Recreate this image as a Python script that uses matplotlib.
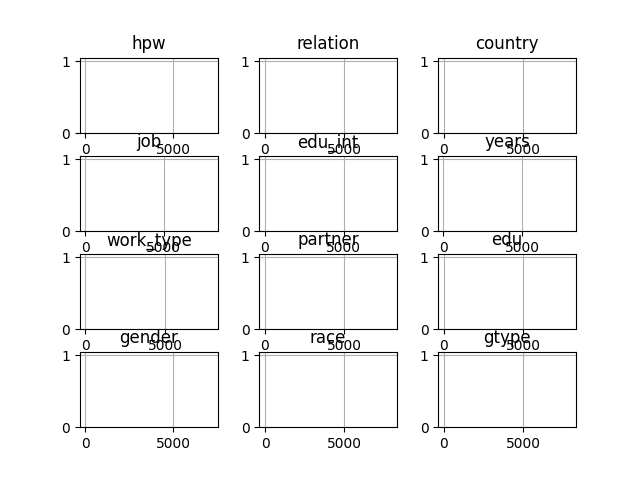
import numpy as np
import matplotlib
matplotlib.use("Agg")
import matplotlib.pyplot as plt

# column names in the order they were plotted
columns = ["hpw", "relation", "country",
           "job", "edu_int", "years",
           "work_type", "partner", "edu",
           "gender", "race", "gtype"]

# smallest / largest value seen in each column (one count each)
hpw = [55, 7190]
relation = [40, 7920]
country = [40, 7920]
job = [75, 8020]
edu_int = [40, 7960]
years = [80, 8020]
work_type = [58, 7905]
partner = [37, 7922]
edu = [37, 7922]
gender = [55, 7186]
race = [20, 7957]
gtype = [40, 7950]

data = [hpw, relation, country, job, edu_int, years,
        work_type, partner, edu, gender, race, gtype]

fig, axes = plt.subplots(4, 3, figsize=(6.4, 4.8), dpi=100)
fig.subplots_adjust(wspace=0.3, hspace=0.3)

for ax, name, vals in zip(axes.flat, columns, data):
    lo, hi = min(vals), max(vals)
    # very narrow bins around each value, so bars are hardly visible
    edges = [lo, lo + 0.1, hi - 0.1, hi]
    ax.hist(vals, bins=edges, snap=False)
    ax.set_title(name)
    ax.grid(True)

plt.savefig("out.png")
